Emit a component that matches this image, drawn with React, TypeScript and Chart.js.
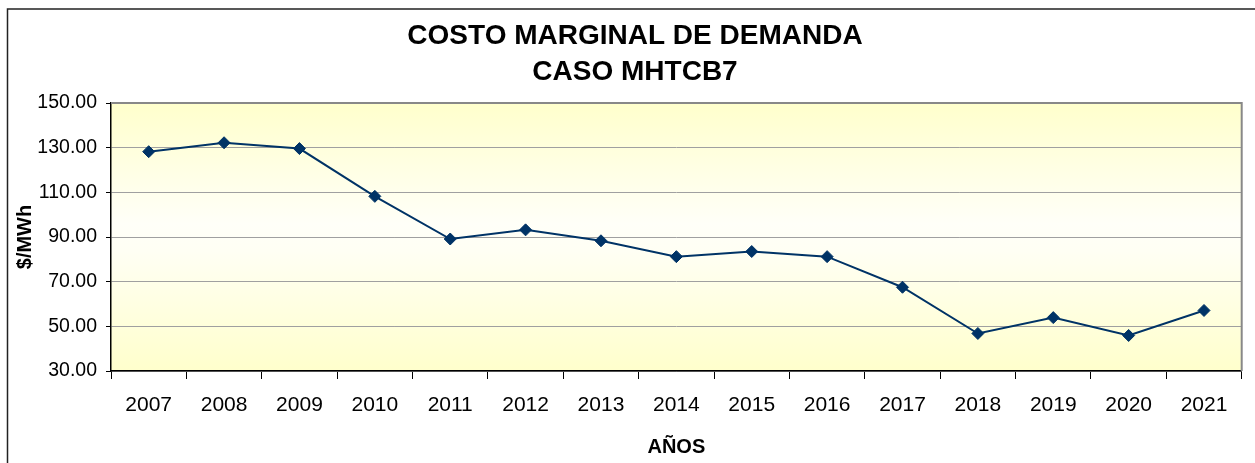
import React, { useEffect, useRef } from "react";
import { Chart, registerables } from "chart.js";

Chart.register(...registerables);

const years = ["2007", "2008", "2009", "2010", "2011", "2012", "2013", "2014", "2015", "2016", "2017", "2018", "2019", "2020", "2021"];
const costoMarginal = [128.2, 132.2, 129.6, 108.2, 89.1, 93.2, 88.3, 81.2, 83.5, 81.2, 67.5, 46.8, 53.9, 45.9, 57.1];
const titleLines = ["COSTO MARGINAL DE DEMANDA", "CASO MHTCB7"];
const yAxisTitle = "$/MWh";
const xAxisTitle = "AÑOS";

const FONT = "'Liberation Sans', Arial, Helvetica, sans-serif";

const decorPlugin = {
  id: "decor",
  beforeDraw(chart: any) {
    const { ctx, chartArea } = chart;
    const { left, top, right, bottom } = chartArea;
    ctx.save();
    const g = ctx.createLinearGradient(0, top, 0, bottom);
    g.addColorStop(0, "#FFFFCC");
    g.addColorStop(0.45, "#FFFFF8");
    g.addColorStop(0.55, "#FFFFF4");
    g.addColorStop(1, "#FFFFCC");
    ctx.fillStyle = g;
    ctx.fillRect(left, top, right - left, bottom - top);
    ctx.restore();
  },
  afterDraw(chart: any) {
    const { ctx, chartArea, width, height } = chart;
    const { left, top, right, bottom } = chartArea;
    ctx.save();
    // plot area top/right border
    ctx.strokeStyle = "#888888";
    ctx.lineWidth = 2;
    ctx.beginPath();
    ctx.moveTo(left, top);
    ctx.lineTo(right, top);
    ctx.lineTo(right, bottom);
    ctx.stroke();
    // outer frame
    ctx.strokeStyle = "#222222";
    ctx.lineWidth = 1.5;
    ctx.beginPath();
    ctx.moveTo(7.5, height);
    ctx.lineTo(7.5, 9);
    ctx.lineTo(width, 9);
    ctx.stroke();
    // title
    ctx.fillStyle = "#000000";
    ctx.font = `bold 28px ${FONT}`;
    ctx.textAlign = "center";
    ctx.textBaseline = "alphabetic";
    ctx.fillText(titleLines[0], 635, 44);
    ctx.fillText(titleLines[1], 635, 80);
    ctx.restore();
  },
};

export default function App() {
  const ref = useRef<HTMLCanvasElement | null>(null);

  useEffect(() => {
    document.body.style.margin = "0";
    document.body.style.overflow = "hidden";
    const canvas = ref.current;
    if (!canvas) return;
    const chart = new Chart(canvas, {
      type: "line",
      data: {
        labels: years,
        datasets: [
          {
            data: costoMarginal,
            borderColor: "#003366",
            backgroundColor: "#003366",
            borderWidth: 2,
            pointStyle: "rectRot",
            pointRadius: 6,
            pointHoverRadius: 6,
            pointBackgroundColor: "#003366",
            pointBorderColor: "#003366",
            pointBorderWidth: 1,
            tension: 0,
          },
        ],
      },
      options: {
        animation: false,
        responsive: false,
        maintainAspectRatio: false,
        layout: { padding: { top: 103, left: 0, right: 13.3, bottom: 0 } },
        plugins: {
          legend: { display: false },
          title: { display: false },
          tooltip: { enabled: false },
        },
        scales: {
          x: {
            type: "category",
            offset: true,
            afterFit: (scale: any) => {
              scale.height = 92;
            },
            grid: {
              offset: true,
              drawOnChartArea: false,
              drawTicks: true,
              tickLength: 8,
              tickColor: "#000000",
              tickWidth: 1,
            },
            border: { display: true, color: "#000000", width: 1.5 },
            ticks: {
              color: "#000000",
              font: { family: FONT, size: 21 },
              padding: 14,
              maxRotation: 0,
              autoSkip: false,
            },
            title: {
              display: true,
              text: xAxisTitle,
              color: "#000000",
              font: { family: FONT, size: 20, weight: "bold", lineHeight: 1.2 },
              padding: { top: 0, bottom: 4 },
            },
          },
          y: {
            min: 30,
            max: 150,
            afterFit: (scale: any) => {
              scale.width = 111;
            },
            grid: {
              color: "#A0A0A0",
              lineWidth: 1,
              drawTicks: true,
              tickLength: 5,
              tickColor: "#000000",
            },
            border: { display: true, color: "#000000", width: 1.5 },
            ticks: {
              stepSize: 20,
              color: "#000000",
              font: { family: FONT, size: 19.5 },
              padding: 9,
              callback: (v: any) => Number(v).toFixed(2),
            },
            title: {
              display: true,
              text: yAxisTitle,
              color: "#000000",
              font: { family: FONT, size: 20, weight: "bold", lineHeight: 1.2 },
              padding: { top: 13, bottom: 0 },
            },
          },
        },
      },
      plugins: [decorPlugin],
    });
    return () => chart.destroy();
  }, []);

  return (
    <div style={{ width: 1255, height: 463 }}>
      <canvas ref={ref} width={1255} height={463} style={{ display: "block" }} />
    </div>
  );
}
